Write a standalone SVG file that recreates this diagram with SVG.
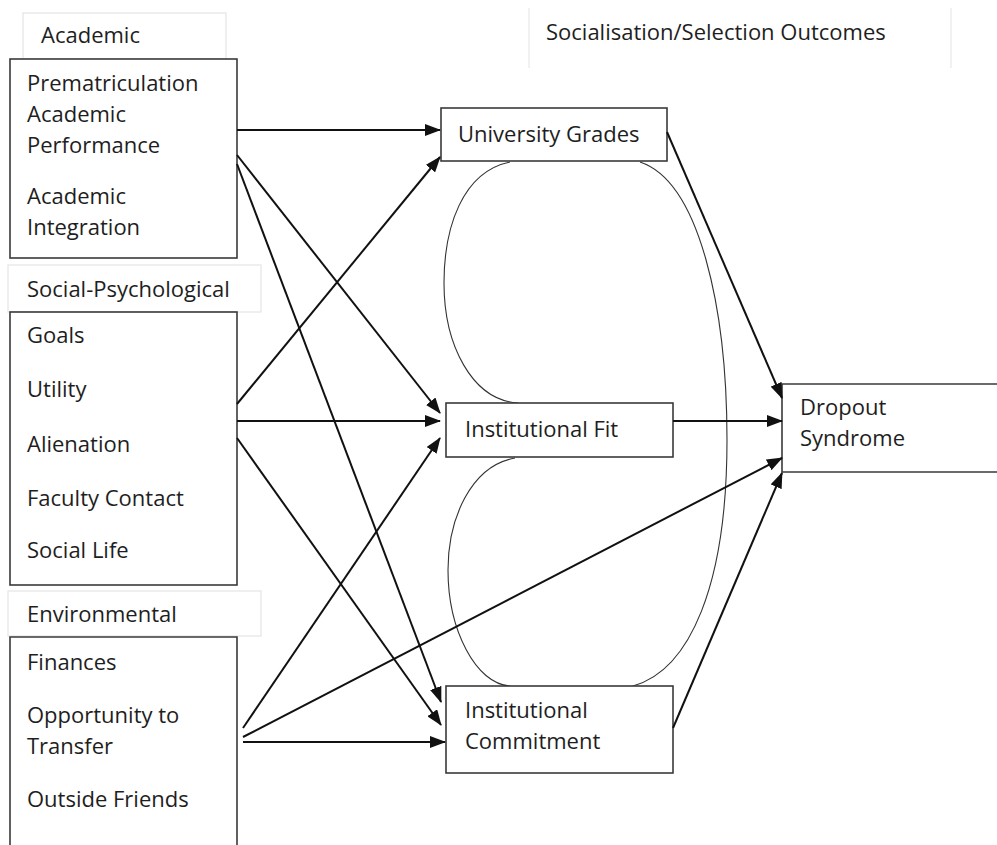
<svg xmlns="http://www.w3.org/2000/svg" width="997" height="845" viewBox="0 0 997 845">
  <style>
    text { font-family: "Open Sans", "Liberation Sans", sans-serif; font-size: 22px; fill: #1e1e1e; }
    .box { fill: #ffffff; stroke: #3a3a3a; stroke-width: 1.6; }
    .head { fill: #ffffff; stroke: #e4e4e4; stroke-width: 1.2; }
    .arrow { fill: none; stroke: #111111; stroke-width: 2; marker-end: url(#tip); }
    .plain { fill: none; stroke: #111111; stroke-width: 2; }
    .curve { fill: none; stroke: #333333; stroke-width: 1.1; }
  </style>
  <defs>
    <marker id="tip" markerUnits="userSpaceOnUse" markerWidth="16" markerHeight="12" refX="15" refY="6" orient="auto">
      <path d="M0,0 L16,6 L0,12 Z" fill="#111111"/>
    </marker>
  </defs>

  <rect width="997" height="845" fill="#ffffff"/>

  <!-- column headers -->
  <g id="header-academic">
    <rect class="head" x="23" y="13" width="203" height="46"/>
    <text x="41" y="43">Academic</text>
  </g>
  <g id="header-outcomes">
    <line x1="529" y1="8" x2="529" y2="68" stroke="#e8e8e8" stroke-width="1.2"/>
    <line x1="951" y1="8" x2="951" y2="68" stroke="#e8e8e8" stroke-width="1.2"/>
    <text x="546" y="40">Socialisation/Selection Outcomes</text>
  </g>

  <!-- smooth links between the outcome boxes -->
  <g id="links">
    <path class="curve" d="M510,162 C462,172 444,228 444,283 C444,345 472,400 518,403"/>
    <path class="curve" d="M515,458 C470,466 448,520 448,570 C448,630 476,684 510,686"/>
    <path class="curve" d="M640,162 C700,182 727,310 727,440 C727,585 690,670 633,686"/>
  </g>

  <!-- input factor groups -->
  <g id="academic">
    <rect class="box" x="10" y="59" width="227" height="199"/>
    <text x="27" y="91">Prematriculation</text>
    <text x="27" y="122">Academic</text>
    <text x="27" y="153">Performance</text>
    <text x="27" y="204">Academic</text>
    <text x="27" y="235">Integration</text>
  </g>

  <g id="header-social">
    <rect class="head" x="8" y="265" width="253" height="47"/>
    <text x="27" y="297">Social-Psychological</text>
  </g>
  <g id="social-psychological">
    <rect class="box" x="10" y="312" width="227" height="273"/>
    <text x="27" y="343">Goals</text>
    <text x="27" y="397">Utility</text>
    <text x="27" y="452">Alienation</text>
    <text x="27" y="506">Faculty Contact</text>
    <text x="27" y="558">Social Life</text>
  </g>

  <g id="header-environmental">
    <rect class="head" x="8" y="591" width="253" height="45"/>
    <text x="27" y="622">Environmental</text>
  </g>
  <g id="environmental">
    <path class="box" d="M10,850 L10,637 L237,637 L237,850"/>
    <text x="27" y="670">Finances</text>
    <text x="27" y="723">Opportunity to</text>
    <text x="27" y="754">Transfer</text>
    <text x="27" y="807">Outside Friends</text>
  </g>

  <!-- outcome boxes -->
  <g id="university-grades">
    <rect class="box" x="441" y="108" width="226" height="53"/>
    <text x="458" y="142">University Grades</text>
  </g>
  <g id="institutional-fit">
    <rect class="box" x="446" y="403" width="227" height="54"/>
    <text x="465" y="437">Institutional Fit</text>
  </g>
  <g id="institutional-commitment">
    <rect class="box" x="446" y="686" width="227" height="87"/>
    <text x="465" y="718">Institutional</text>
    <text x="465" y="749">Commitment</text>
  </g>
  <g id="dropout-syndrome">
    <path class="box" d="M1000,384 L782,384 L782,472 L1000,472"/>
    <text x="800" y="415">Dropout</text>
    <text x="800" y="446">Syndrome</text>
  </g>

  <!-- causal paths -->
  <g id="connectors">
    <line class="arrow" x1="237" y1="130" x2="440" y2="130"/>
    <line class="arrow" x1="237" y1="155" x2="440" y2="413"/>
    <line class="arrow" x1="237" y1="164" x2="441" y2="702"/>

    <line class="arrow" x1="237" y1="404" x2="440" y2="157"/>
    <line class="arrow" x1="237" y1="421" x2="440" y2="421"/>
    <line class="arrow" x1="237" y1="438" x2="441" y2="725"/>

    <line class="arrow" x1="243" y1="728" x2="440" y2="438"/>
    <line class="arrow" x1="243" y1="737" x2="782" y2="458"/>
    <line class="arrow" x1="243" y1="742" x2="445" y2="742"/>

    <line class="arrow" x1="667" y1="132" x2="782" y2="398"/>
    <line class="arrow" x1="673" y1="421" x2="782" y2="421"/>
    <line class="arrow" x1="673" y1="728" x2="782" y2="473"/>
  </g>
</svg>
